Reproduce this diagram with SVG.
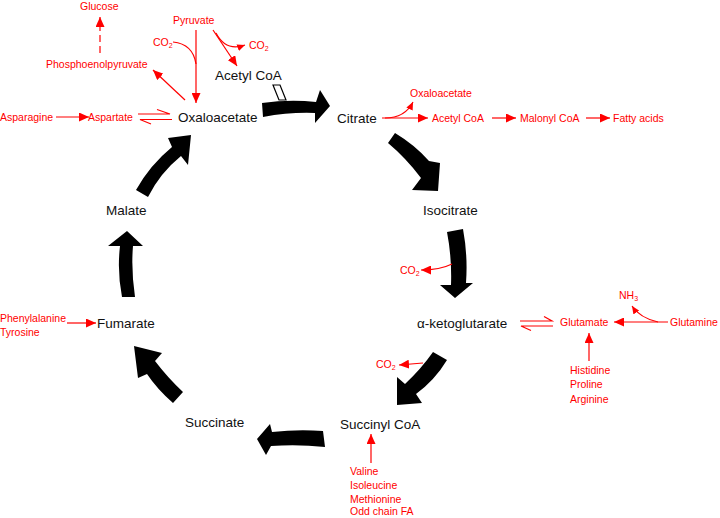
<svg xmlns="http://www.w3.org/2000/svg" width="720" height="518" viewBox="0 0 720 518">
<defs>
<style>
.k{font-family:"Liberation Sans",Arial,sans-serif;font-size:13.5px;fill:#111}
.r{font-family:"Liberation Sans",Arial,sans-serif;font-size:10.5px;fill:#ff0000}
.s{font-size:7px}
.ln{stroke:#ff0000;stroke-width:1.2;fill:none}
.big{fill:#000}
</style>
<marker id="ah" viewBox="0 0 10 9" refX="10" refY="4.5" markerWidth="10" markerHeight="9" markerUnits="userSpaceOnUse" orient="auto">
<path d="M0,0 L10,4.5 L0,9 z" fill="#ff0000"/>
</marker>
<marker id="ahs" viewBox="0 0 10 9" refX="10" refY="4.5" markerWidth="8" markerHeight="7" markerUnits="userSpaceOnUse" orient="auto">
<path d="M0,0 L10,4.5 L0,9 z" fill="#ff0000"/>
</marker>
</defs>
<rect width="720" height="518" fill="#fff"/>

<g id="connectors">
<!-- cycle arrows -->
<path class="big" d="M262,103 Q290,99 316,102 L320,90 L330,106 L315,123 L315,113 Q290,112 263,117 Z"/>
<path d="M273,85 L280,85 L286,100 L279,100 Z" fill="#fff" stroke="#000" stroke-width="1.2"/>
<path class="big" d="M388,143 L395,133 Q415,145 429,161 L440,163 L438,191 L412,190 L421,178 Q406,158 388,143 Z"/>
<path class="big" d="M447,232 L463,229 Q468,256 466,283 L473,283 L455,298 L440,285 L451,285 Q452,258 447,232 Z"/>
<path class="big" d="M433,352 L447,360 Q435,380 416,394 L422,403 L397,405 L397,377 L405,384 Q421,369 433,352 Z"/>
<path class="big" d="M323,431 Q298,429 272,432 L270,424 L257,439 L266,455 L271,446 Q298,444 325,447 Z"/>
<path class="big" d="M183,392 L173,403 Q157,389 147,374 L138,378 L134,346 L162,353 L155,361 Q168,378 183,392 Z"/>
<path class="big" d="M122,297 L135,297 Q131,270 133,246 L143,246 L127,231 L108,246 L120,246 Q117,272 122,297 Z"/>
<path class="big" d="M136,190 Q150,165 172,147 L168,138 L191,135 L188,165 L181,156 Q160,173 148,197 Z"/>

<!-- red connectors -->
<line class="ln" x1="100" y1="53" x2="100" y2="17" stroke-dasharray="7,4" marker-end="url(#ah)"/>
<line class="ln" x1="185" y1="100" x2="153" y2="70" marker-end="url(#ah)"/>
<line class="ln" x1="196" y1="30" x2="196" y2="103" marker-end="url(#ah)"/>
<path class="ln" d="M173,42 Q193,44 196,64"/>
<line class="ln" x1="213" y1="30" x2="237" y2="66" marker-end="url(#ah)"/>
<path class="ln" d="M216,33 Q226,52 245,45" marker-end="url(#ahs)"/>
<line class="ln" x1="56" y1="117" x2="89" y2="117" marker-end="url(#ah)"/>
<path class="ln" d="M138,114 L170,114 L157,109.5"/>
<path class="ln" d="M172,119.5 L140,119.5 L151,124"/>
<line class="ln" x1="382" y1="118" x2="428" y2="118" marker-end="url(#ah)"/>
<path class="ln" d="M385,118 Q405,118 413,102" marker-end="url(#ahs)"/>
<line class="ln" x1="492" y1="118" x2="516" y2="118" marker-end="url(#ah)"/>
<line class="ln" x1="586" y1="118" x2="610" y2="118" marker-end="url(#ah)"/>
<path class="ln" d="M452,264 Q440,270 421,270" marker-end="url(#ah)"/>
<path class="ln" d="M520,321 L552,321 L544,316.5"/>
<path class="ln" d="M553,326 L521,326 L531,330.5"/>
<line class="ln" x1="668" y1="322" x2="614" y2="322" marker-end="url(#ah)"/>
<path class="ln" d="M658,322 Q640,318 632,306" marker-end="url(#ahs)"/>
<line class="ln" x1="589" y1="361" x2="589" y2="333" marker-end="url(#ah)"/>
<line class="ln" x1="423" y1="363" x2="399" y2="365" marker-end="url(#ah)"/>
<line class="ln" x1="371" y1="463" x2="371" y2="434" marker-end="url(#ah)"/>
<line class="ln" x1="67" y1="323" x2="96" y2="323" marker-end="url(#ah)"/>
</g>

<g id="node-oxaloacetate"><text class="k" x="178" y="122">Oxaloacetate</text></g>
<g id="node-acetylcoa"><text class="k" x="215" y="80">Acetyl CoA</text></g>
<g id="node-citrate"><text class="k" x="337" y="123">Citrate</text></g>
<g id="node-isocitrate"><text class="k" x="423" y="215">Isocitrate</text></g>
<g id="node-aketoglutarate"><text class="k" x="417" y="328">α-ketoglutarate</text></g>
<g id="node-succinylcoa"><text class="k" x="340" y="429">Succinyl CoA</text></g>
<g id="node-succinate"><text class="k" x="185" y="427">Succinate</text></g>
<g id="node-fumarate"><text class="k" x="97" y="328">Fumarate</text></g>
<g id="node-malate"><text class="k" x="106" y="215">Malate</text></g>

<g id="node-glucose"><text class="r" x="80" y="10">Glucose</text></g>
<g id="node-pyruvate"><text class="r" x="173" y="24">Pyruvate</text></g>
<g id="node-co2-a"><text class="r" x="153" y="46">CO<tspan class="s" dy="2">2</tspan></text></g>
<g id="node-co2-b"><text class="r" x="249" y="49">CO<tspan class="s" dy="2">2</tspan></text></g>
<g id="node-pep"><text class="r" x="46" y="68">Phosphoenolpyruvate</text></g>
<g id="node-asparagine"><text class="r" x="0" y="121">Asparagine</text></g>
<g id="node-aspartate"><text class="r" x="88" y="121">Aspartate</text></g>
<g id="node-oaa2"><text class="r" x="410" y="97">Oxaloacetate</text></g>
<g id="node-acetylcoa2"><text class="r" x="432" y="122">Acetyl CoA</text></g>
<g id="node-malonylcoa"><text class="r" x="520" y="122">Malonyl CoA</text></g>
<g id="node-fattyacids"><text class="r" x="613" y="122">Fatty acids</text></g>
<g id="node-co2-c"><text class="r" x="400" y="274">CO<tspan class="s" dy="2">2</tspan></text></g>
<g id="node-nh3"><text class="r" x="619" y="299">NH<tspan class="s" dy="2">3</tspan></text></g>
<g id="node-glutamate"><text class="r" x="560" y="326">Glutamate</text></g>
<g id="node-glutamine"><text class="r" x="670" y="326">Glutamine</text></g>
<g id="node-hpa"><text class="r" x="570" y="374">Histidine</text><text class="r" x="570" y="388">Proline</text><text class="r" x="570" y="403">Arginine</text></g>
<g id="node-co2-d"><text class="r" x="376" y="368">CO<tspan class="s" dy="2">2</tspan></text></g>
<g id="node-vimo"><text class="r" x="350" y="475">Valine</text><text class="r" x="350" y="489">Isoleucine</text><text class="r" x="350" y="503">Methionine</text><text class="r" x="350" y="515">Odd chain FA</text></g>
<g id="node-phetyr"><text class="r" x="0" y="322">Phenylalanine</text><text class="r" x="0" y="336">Tyrosine</text></g>
</svg>
